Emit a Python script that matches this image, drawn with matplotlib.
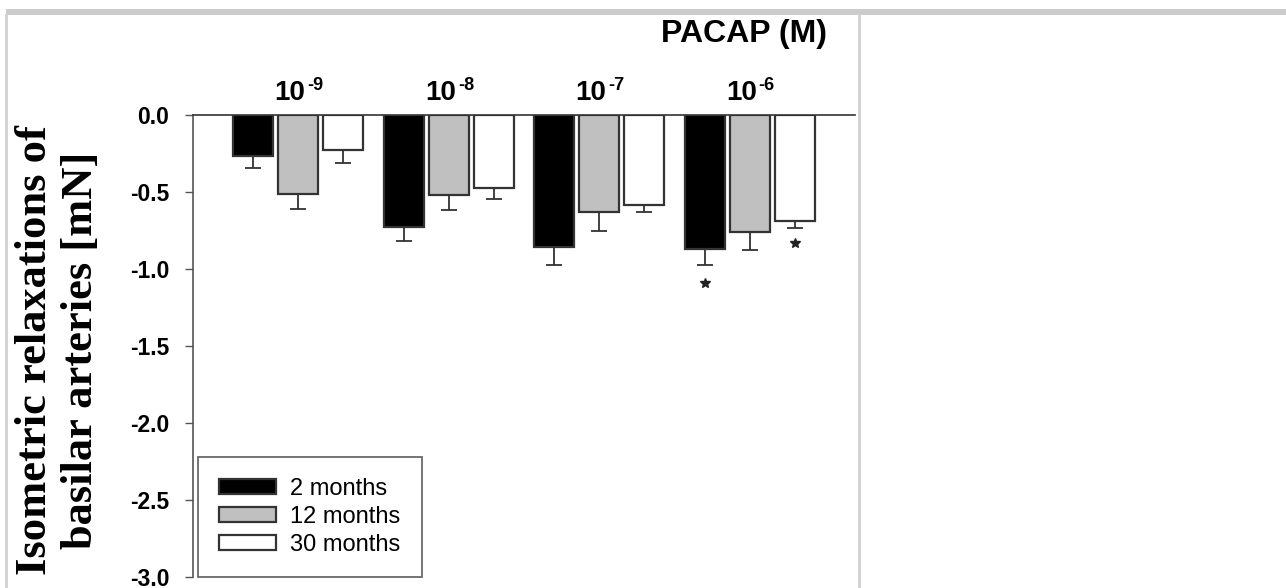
import matplotlib
matplotlib.use("Agg")
import matplotlib.pyplot as plt
from matplotlib.lines import Line2D
from matplotlib.patches import Rectangle
from matplotlib.transforms import offset_copy
import numpy as np

# ---- data ----
conc_base = ["10", "10", "10", "10"]
conc_exp = ["-9", "-8", "-7", "-6"]
series_names = ["2 months", "12 months", "30 months"]
mean_2m = [-0.264, -0.729, -0.855, -0.870]
err_2m = [0.082, 0.089, 0.119, 0.104]
mean_12m = [-0.515, -0.519, -0.628, -0.762]
err_12m = [0.097, 0.098, 0.125, 0.115]
mean_30m = [-0.227, -0.472, -0.582, -0.688]
err_30m = [0.087, 0.073, 0.050, 0.048]
# significance stars: (series index, group index, y value)
star_series = [0, 2]
star_group = [3, 3]
star_y = [-1.09, -0.83]

means = [mean_2m, mean_12m, mean_30m]
errs = [err_2m, err_12m, err_30m]
fills = ["#000000", "#c0c0c0", "#ffffff"]

fig = plt.figure(figsize=(12.86, 5.88), dpi=100)
ax = fig.add_axes([193 / 1286, 1 - 577 / 588, (855 - 193) / 1286, (577 - 115) / 588])

x = np.arange(len(conc_base))
width = 0.265
offsets = [-0.299, 0.0, 0.299]
for i in range(3):
    m = np.array(means[i])
    e = np.array(errs[i])
    ax.bar(x + offsets[i], m, width, color=fills[i], edgecolor="#333333",
           linewidth=1.6, label=series_names[i], zorder=2)
    ax.errorbar(x + offsets[i], m, yerr=[e, np.zeros_like(e)], fmt="none",
                ecolor="#333333", elinewidth=1.3, capsize=6, capthick=1.3, zorder=1)

for s, g, yv in zip(star_series, star_group, star_y):
    ax.plot(g + offsets[s], yv, marker="*", color="#222222", markersize=7,
            linestyle="none", zorder=3)

ax.set_xlim(-0.70, 3.70)
ax.set_ylim(-3.0, 0.0)
yt = np.arange(-3.0, 0.01, 0.5)
ax.set_yticks(yt)
ax.set_yticklabels([f"{v:.1f}" for v in yt])
ax.set_xticks([])

for sp in ["right", "bottom"]:
    ax.spines[sp].set_visible(False)
ax.spines["left"].set_color("#555555")
ax.spines["left"].set_linewidth(1.2)
ax.spines["top"].set_color("#333333")
ax.spines["top"].set_linewidth(1.2)
ax.tick_params(axis="y", direction="out", length=6, width=1.0, color="#555555",
               pad=11, labelsize=16.5)
for lab in ax.get_yticklabels():
    lab.set_fontweight("bold")
    lab.set_fontfamily("Liberation Sans")

# group labels: "10" with superscript exponent
for xi, b, ex in zip(x, conc_base, conc_exp):
    tr_base = offset_copy(ax.transData, fig=fig, x=7, y=0, units="dots")
    ax.text(xi, 0.06, b, ha="right", va="bottom", fontsize=20, fontweight="bold",
            fontfamily="Liberation Sans", transform=tr_base, clip_on=False)
    tr_exp = offset_copy(ax.transData, fig=fig, x=9, y=12, units="dots")
    ax.text(xi, 0.06, ex, ha="left", va="bottom", fontsize=13, fontweight="bold",
            fontfamily="Liberation Sans", transform=tr_exp, clip_on=False)

fig.text(744 / 1286, 1 - 34 / 588, "PACAP (M)", ha="center", va="center",
         fontsize=23, fontweight="bold", fontfamily="Liberation Sans")

fig.text(58 / 1286, 1 - 350 / 588, "Isometric relaxations of\nbasilar arteries [mN]",
         rotation=90, ha="center", va="center", fontsize=32, fontweight="bold",
         fontfamily="Liberation Serif", linespacing=1.2, multialignment="center")

leg = ax.legend(loc="lower left", bbox_to_anchor=(0.0076, 0.0), borderaxespad=0,
                prop={"family": "Liberation Sans", "size": 17},
                fancybox=False, frameon=True, handlelength=2.4, handleheight=0.55,
                handletextpad=0.6, labelspacing=0.25, borderpad=0.9)
leg.get_frame().set_edgecolor("#444444")
leg.get_frame().set_linewidth(1.3)

# decorative page frame
fig.add_artist(Rectangle((6 / 1286, 1 - 15 / 588), 1 - 6 / 1286, 6 / 588,
                         transform=fig.transFigure, color="#cccccc", lw=0))
fig.add_artist(Line2D([6 / 1286, 6 / 1286], [0, 1 - 15 / 588], transform=fig.transFigure,
                      color="#d0d0d0", lw=2))
fig.add_artist(Line2D([859 / 1286, 859 / 1286], [0, 1 - 15 / 588], transform=fig.transFigure,
                      color="#d0d0d0", lw=2))

fig.savefig("out.png", dpi=100)
